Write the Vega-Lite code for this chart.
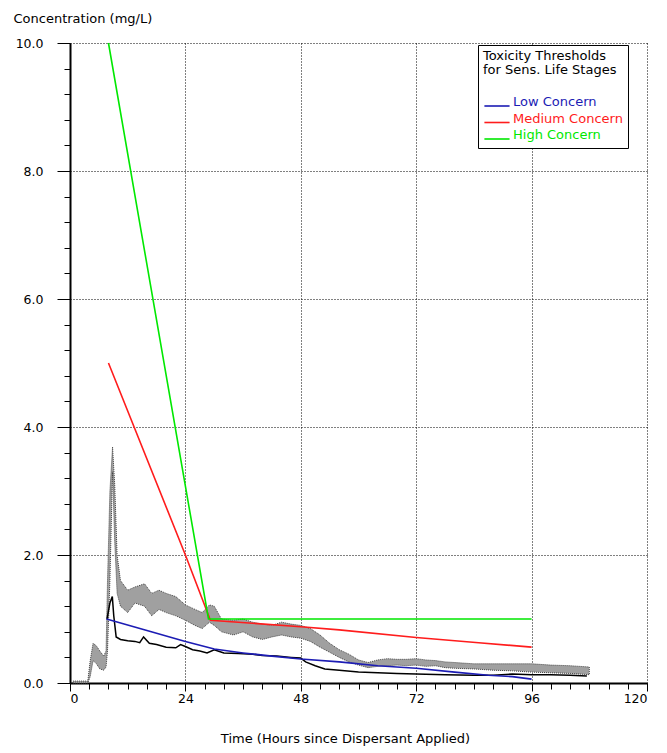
{
  "$schema": "https://vega.github.io/schema/vega-lite/v6.json",
  "width": 577,
  "height": 640,
  "autosize": {"type": "none"},
  "padding": {"left": 70, "top": 43, "right": 20, "bottom": 70},
  "background": "white",
  "config": {
    "view": {"stroke": null},
    "font": "DejaVu Sans",
    "axis": {
      "labelFont": "DejaVu Sans",
      "titleFont": "DejaVu Sans",
      "labelColor": "#000",
      "titleColor": "#000",
      "tickColor": "#000",
      "domainColor": "#000",
      "labelFontSize": 12.5,
      "titleFontSize": 13,
      "titleFontWeight": "normal"
    }
  },
  "datasets": {
    "band": [
      {"t": 0.6, "lo": 0, "hi": 0.03},
      {"t": 3.7, "lo": 0, "hi": 0.03},
      {"t": 4.2, "lo": 0.1, "hi": 0.35},
      {"t": 4.8, "lo": 0.35, "hi": 0.62},
      {"t": 5.5, "lo": 0.3, "hi": 0.58},
      {"t": 6.2, "lo": 0.22, "hi": 0.5},
      {"t": 7.0, "lo": 0.2, "hi": 0.42},
      {"t": 7.5, "lo": 0.25, "hi": 0.5},
      {"t": 7.8, "lo": 0.5, "hi": 1.6},
      {"t": 8.3, "lo": 1.6, "hi": 3.0},
      {"t": 8.85, "lo": 3.3, "hi": 3.69},
      {"t": 9.3, "lo": 2.2, "hi": 3.1},
      {"t": 9.8, "lo": 1.4, "hi": 2.0},
      {"t": 10.5, "lo": 1.2, "hi": 1.6},
      {"t": 12, "lo": 1.1, "hi": 1.45},
      {"t": 13.5, "lo": 1.25, "hi": 1.5},
      {"t": 15.5, "lo": 1.2, "hi": 1.55},
      {"t": 17, "lo": 1.05, "hi": 1.4},
      {"t": 18.5, "lo": 1.15, "hi": 1.45},
      {"t": 20, "lo": 1.1, "hi": 1.4},
      {"t": 22, "lo": 1.05, "hi": 1.35},
      {"t": 24, "lo": 0.98, "hi": 1.22},
      {"t": 26, "lo": 0.9, "hi": 1.15},
      {"t": 27.5, "lo": 0.85, "hi": 1.1},
      {"t": 29, "lo": 0.95, "hi": 1.22},
      {"t": 30, "lo": 0.9, "hi": 1.2},
      {"t": 31.5, "lo": 0.8, "hi": 1.0},
      {"t": 34, "lo": 0.75, "hi": 0.98},
      {"t": 36, "lo": 0.8, "hi": 1.0},
      {"t": 38, "lo": 0.72, "hi": 0.95},
      {"t": 40, "lo": 0.68, "hi": 0.92},
      {"t": 42, "lo": 0.72, "hi": 0.9},
      {"t": 44, "lo": 0.75, "hi": 0.95},
      {"t": 46, "lo": 0.72, "hi": 0.92},
      {"t": 48, "lo": 0.7, "hi": 0.9},
      {"t": 50, "lo": 0.65, "hi": 0.85},
      {"t": 52, "lo": 0.56, "hi": 0.75},
      {"t": 54, "lo": 0.48, "hi": 0.62},
      {"t": 56, "lo": 0.4, "hi": 0.52},
      {"t": 58, "lo": 0.33, "hi": 0.45},
      {"t": 60, "lo": 0.28, "hi": 0.36},
      {"t": 62, "lo": 0.24, "hi": 0.32},
      {"t": 64, "lo": 0.26, "hi": 0.36},
      {"t": 66, "lo": 0.27, "hi": 0.38},
      {"t": 68, "lo": 0.28, "hi": 0.37},
      {"t": 70, "lo": 0.27, "hi": 0.37},
      {"t": 72, "lo": 0.28, "hi": 0.38},
      {"t": 74, "lo": 0.26, "hi": 0.36},
      {"t": 76, "lo": 0.27, "hi": 0.35},
      {"t": 78, "lo": 0.24, "hi": 0.33},
      {"t": 80, "lo": 0.23, "hi": 0.32},
      {"t": 84, "lo": 0.22, "hi": 0.3},
      {"t": 88, "lo": 0.2, "hi": 0.3},
      {"t": 92, "lo": 0.19, "hi": 0.3},
      {"t": 96, "lo": 0.17, "hi": 0.3},
      {"t": 100, "lo": 0.16, "hi": 0.28},
      {"t": 104, "lo": 0.15, "hi": 0.27},
      {"t": 108, "lo": 0.13, "hi": 0.25}
    ],
    "black": [
      {"t": 7.7, "c": 1.0},
      {"t": 8.3, "c": 1.25},
      {"t": 8.8, "c": 1.35},
      {"t": 9.1, "c": 1.05},
      {"t": 9.6, "c": 0.72},
      {"t": 10.5, "c": 0.68},
      {"t": 12, "c": 0.66},
      {"t": 13.5, "c": 0.65},
      {"t": 14.5, "c": 0.63},
      {"t": 15.3, "c": 0.72},
      {"t": 16.5, "c": 0.62},
      {"t": 18, "c": 0.6},
      {"t": 20, "c": 0.56},
      {"t": 22, "c": 0.55},
      {"t": 23, "c": 0.6},
      {"t": 24, "c": 0.57},
      {"t": 25.5, "c": 0.52},
      {"t": 27, "c": 0.5},
      {"t": 28.5, "c": 0.47},
      {"t": 30, "c": 0.52},
      {"t": 32, "c": 0.47},
      {"t": 35, "c": 0.46},
      {"t": 38, "c": 0.45},
      {"t": 40, "c": 0.43},
      {"t": 43, "c": 0.42},
      {"t": 46, "c": 0.4},
      {"t": 48, "c": 0.39},
      {"t": 49, "c": 0.33},
      {"t": 51, "c": 0.27},
      {"t": 53, "c": 0.22},
      {"t": 56, "c": 0.2},
      {"t": 60, "c": 0.17},
      {"t": 64, "c": 0.16},
      {"t": 68, "c": 0.15},
      {"t": 72, "c": 0.14},
      {"t": 78, "c": 0.13},
      {"t": 84, "c": 0.12},
      {"t": 88, "c": 0.12},
      {"t": 92, "c": 0.14},
      {"t": 96, "c": 0.13},
      {"t": 100, "c": 0.13},
      {"t": 104, "c": 0.12},
      {"t": 107.5, "c": 0.11}
    ],
    "thr": [
      {"t": 7.6, "c": 1.0, "level": "Low Concern"},
      {"t": 16, "c": 0.82, "level": "Low Concern"},
      {"t": 24, "c": 0.65, "level": "Low Concern"},
      {"t": 30, "c": 0.53, "level": "Low Concern"},
      {"t": 36, "c": 0.47, "level": "Low Concern"},
      {"t": 42, "c": 0.42, "level": "Low Concern"},
      {"t": 48, "c": 0.375, "level": "Low Concern"},
      {"t": 56, "c": 0.33, "level": "Low Concern"},
      {"t": 64, "c": 0.27, "level": "Low Concern"},
      {"t": 72, "c": 0.23, "level": "Low Concern"},
      {"t": 80, "c": 0.17, "level": "Low Concern"},
      {"t": 87, "c": 0.12, "level": "Low Concern"},
      {"t": 92, "c": 0.1, "level": "Low Concern"},
      {"t": 96, "c": 0.06, "level": "Low Concern"},
      {"t": 8, "c": 5.0, "level": "Medium Concern"},
      {"t": 24, "c": 2.0, "level": "Medium Concern"},
      {"t": 29.2, "c": 0.98, "level": "Medium Concern"},
      {"t": 48, "c": 0.88, "level": "Medium Concern"},
      {"t": 56, "c": 0.83, "level": "Medium Concern"},
      {"t": 72, "c": 0.71, "level": "Medium Concern"},
      {"t": 85, "c": 0.63, "level": "Medium Concern"},
      {"t": 96, "c": 0.56, "level": "Medium Concern"},
      {"t": 8, "c": 10.0, "level": "High Concern"},
      {"t": 28.8, "c": 1.0, "level": "High Concern"},
      {"t": 96, "c": 1.0, "level": "High Concern"}
    ]
  },
  "layer": [
    {
      "data": {"name": "band"},
      "mark": {"type": "area", "fill": "#a0a0a0", "stroke": "#444", "strokeWidth": 1, "strokeDash": [1, 1]},
      "encoding": {
        "x": {
          "field": "t", "type": "quantitative",
          "scale": {"domain": [0, 120], "nice": false, "zero": false},
          "axis": {
            "orient": "bottom",
            "values": [0, 24, 48, 72, 96, 120],
            "title": "Time (Hours since Dispersant Applied)",
            "grid": true, "gridDash": [1, 2], "gridColor": "#000", "gridOpacity": 1,
            "tickSize": 8, "domainWidth": 2, "labelPadding": 1,
            "titleX": 275, "titleY": 59, "titleAlign": "center", "titleBaseline": "alphabetic"
          }
        },
        "y": {
          "field": "lo", "type": "quantitative",
          "scale": {"domain": [0, 10], "nice": false},
          "axis": {
            "orient": "left",
            "values": [0, 2, 4, 6, 8, 10],
            "format": ".1f",
            "title": "Concentration (mg/L)",
            "titleAngle": 0, "titleX": -57, "titleY": -21, "titleAlign": "left", "titleBaseline": "alphabetic",
            "grid": true, "gridDash": [1, 2], "gridColor": "#000", "gridOpacity": 1,
            "tickSize": 13, "domainWidth": 2, "labelPadding": 14
          }
        },
        "y2": {"field": "hi"}
      }
    },
    {
      "data": {"name": "black"},
      "mark": {"type": "line", "color": "#000", "strokeWidth": 1.5},
      "encoding": {
        "x": {
          "field": "t", "type": "quantitative",
          "axis": {
            "orient": "bottom",
            "values": [4, 8, 12, 16, 20, 28, 32, 36, 40, 44, 52, 56, 60, 64, 68, 76, 80, 84, 88, 92, 100, 104, 108, 112, 116],
            "labels": false, "grid": false, "domain": false, "tickSize": 6, "title": null
          }
        },
        "y": {
          "field": "c", "type": "quantitative",
          "axis": {
            "orient": "left",
            "values": [0.4, 0.8, 1.2, 1.6, 2.4, 2.8, 3.2, 3.6, 4.4, 4.8, 5.2, 5.6, 6.4, 6.8, 7.2, 7.6, 8.4, 8.8, 9.2, 9.6],
            "labels": false, "grid": false, "domain": false, "tickSize": 6, "title": null
          }
        }
      }
    },
    {
      "data": {"name": "thr"},
      "mark": {"type": "line", "strokeWidth": 1.6},
      "encoding": {
        "x": {"field": "t", "type": "quantitative", "axis": null},
        "y": {"field": "c", "type": "quantitative", "axis": null},
        "color": {
          "field": "level", "type": "nominal",
          "scale": {"domain": ["Low Concern", "Medium Concern", "High Concern"], "range": ["#1c1cb4", "#ff1c1c", "#00e800"]},
          "legend": {
            "orient": "none", "legendX": 408, "legendY": 2,
            "title": ["Toxicity Thresholds", "for Sens. Life Stages"],
            "titleFont": "DejaVu Sans", "titleFontSize": 13, "titleFontWeight": "normal", "titleColor": "#000",
            "titleLineHeight": 14, "titlePadding": 21,
            "labelFont": "DejaVu Sans", "labelFontSize": 13, "labelOffset": 8, "labelBaseline": "alphabetic",
            "symbolType": "M-1.8,0H1.8", "symbolSize": 196, "symbolStrokeWidth": 1.6, "symbolOffset": 6,
            "rowPadding": 2.5,
            "strokeColor": "#000", "fillColor": "#fff", "padding": 5,
            "encode": {"labels": {"update": {"fill": {"scale": "color", "field": "value"}}}}
          }
        }
      }
    }
  ],
  "resolve": {"axis": {"x": "independent", "y": "independent"}}
}
